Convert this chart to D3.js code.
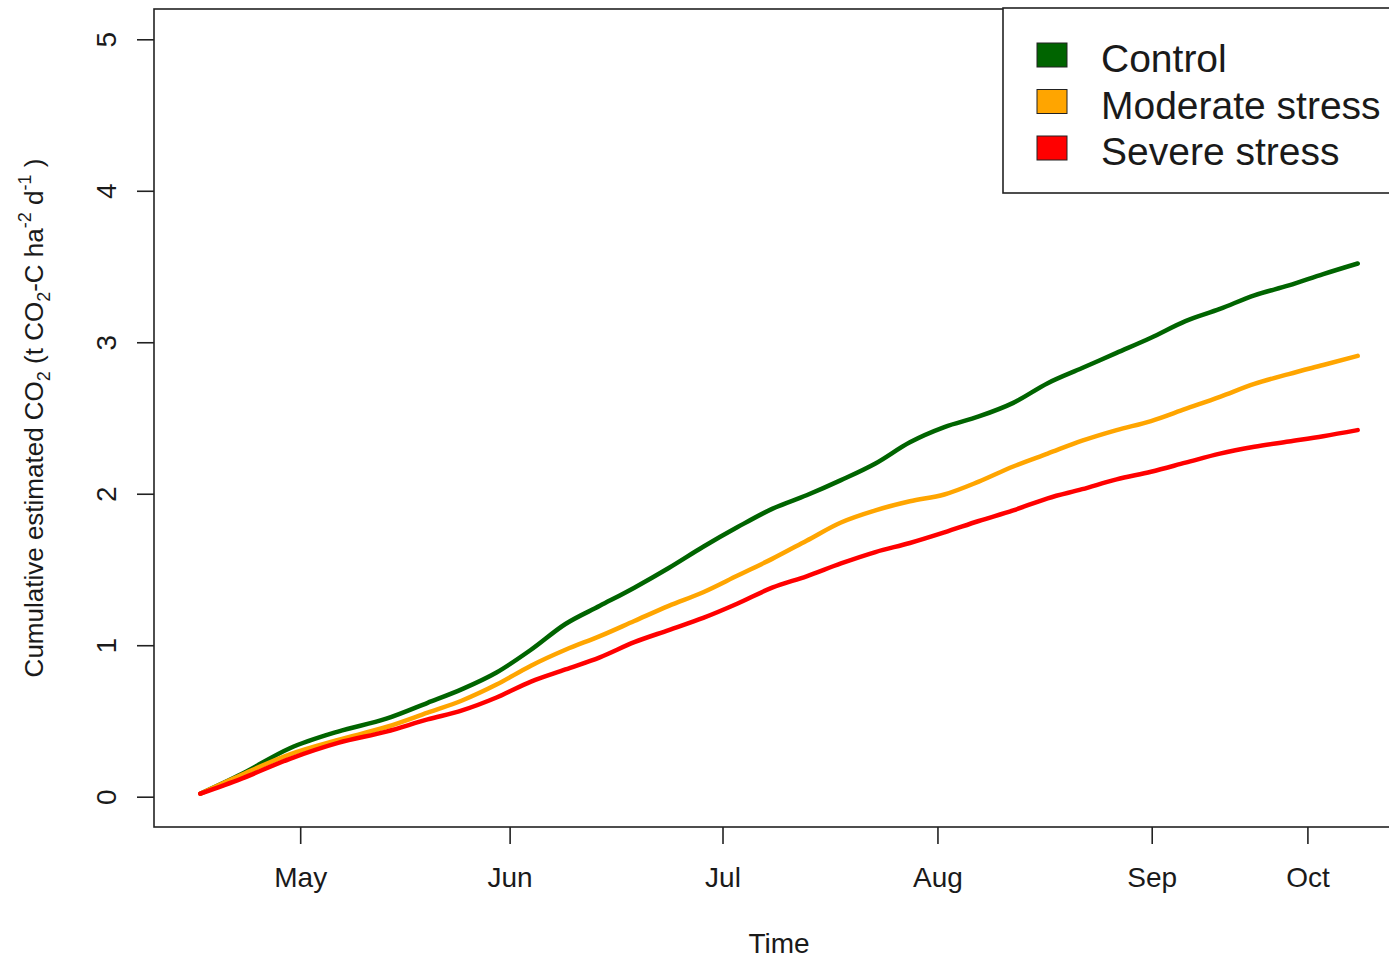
<!DOCTYPE html>
<html>
<head>
<meta charset="utf-8">
<script src="https://cdn.jsdelivr.net/npm/d3@7"></script>
<style>
  html, body { margin: 0; padding: 0; background: #fff; }
  svg { display: block; font-family: "Liberation Sans", Arial, sans-serif; }
</style>
</head>
<body>
<svg id="chart" width="1389" height="958"></svg>
<script>
// Day of the season (0 = first measurement day)
const dayIdx = [0, 6, 13, 20, 27, 33, 38, 43, 48, 53, 58, 63, 68, 73, 78, 83, 88,
  93, 98, 103, 108, 113, 118, 123, 128, 133, 138, 143, 148, 153, 158, 163, 168];

// Cumulative estimated CO2 (t CO2-C ha-2 d-1)
const control = [0.02, 0.15, 0.32, 0.43, 0.515, 0.62, 0.71, 0.82, 0.97, 1.14, 1.26,
  1.38, 1.51, 1.65, 1.78, 1.90, 1.99, 2.09, 2.20, 2.34, 2.44, 2.51, 2.60, 2.73,
  2.83, 2.93, 3.03, 3.14, 3.22, 3.31, 3.375, 3.45, 3.52];
const moderate = [0.02, 0.145, 0.28, 0.375, 0.46, 0.555, 0.635, 0.74, 0.865, 0.97,
  1.06, 1.16, 1.26, 1.35, 1.46, 1.57, 1.69, 1.81, 1.89, 1.95, 1.995, 2.08, 2.18,
  2.265, 2.35, 2.42, 2.48, 2.56, 2.64, 2.725, 2.79, 2.85, 2.91];
const severe = [0.02, 0.12, 0.25, 0.355, 0.43, 0.51, 0.57, 0.655, 0.76, 0.84, 0.92,
  1.02, 1.10, 1.18, 1.275, 1.38, 1.455, 1.54, 1.615, 1.675, 1.745, 1.82, 1.89,
  1.97, 2.03, 2.095, 2.145, 2.205, 2.265, 2.31, 2.345, 2.38, 2.42];

// Month tick positions along the day axis and their labels
const monthTickPos = [14.5, 44.9, 75.8, 107.0, 138.1, 160.7];
const monthLabels = ["May", "Jun", "Jul", "Aug", "Sep", "Oct"];

const yTicks = [0, 1, 2, 3, 4, 5];

const seriesNames = ["Control", "Moderate stress", "Severe stress"];
const seriesColors = ["#006400", "#FFA500", "#FF0000"];
const seriesValues = [control, moderate, severe];

const svg = d3.select("#chart");
const plot = { left: 154, top: 9, right: 1404, bottom: 827 };

// R-style 4% padding around the data range
const xPad = (d3.max(dayIdx) - d3.min(dayIdx)) * 0.04;
const x = d3.scaleLinear()
  .domain([d3.min(dayIdx) - xPad, d3.max(dayIdx) + xPad])
  .range([plot.left, plot.right]);
const y = d3.scaleLinear()
  .domain([0 - 5 * 0.04, 5 + 5 * 0.04])
  .range([plot.bottom, plot.top]);

const textColor = "#1a1a1a";

// Series lines
const line = d3.line()
  .curve(d3.curveMonotoneX)
  .x(d => x(d[0]))
  .y(d => y(d[1]));

seriesValues.forEach((vals, i) => {
  svg.append("path")
    .datum(dayIdx.map((d, k) => [d, vals[k]]))
    .attr("fill", "none")
    .attr("stroke", seriesColors[i])
    .attr("stroke-width", 4.5)
    .attr("stroke-linejoin", "round")
    .attr("stroke-linecap", "round")
    .attr("d", line);
});

// Plot frame
svg.append("rect")
  .attr("x", plot.left).attr("y", plot.top)
  .attr("width", plot.right - plot.left)
  .attr("height", plot.bottom - plot.top)
  .attr("fill", "none")
  .attr("stroke", "#222")
  .attr("stroke-width", 1.6);

// Y axis
const yAxis = d3.axisLeft(y).tickValues(yTicks).tickSize(17).tickPadding(0)
  .tickFormat(d3.format("d"));
const gy = svg.append("g")
  .attr("transform", `translate(${plot.left},0)`)
  .call(yAxis);
gy.select(".domain").remove();
gy.selectAll(".tick line").attr("stroke", "#222").attr("stroke-width", 1.6);
gy.selectAll(".tick text")
  .attr("x", null).attr("dy", null)
  .attr("transform", "translate(-38,0) rotate(-90)")
  .attr("text-anchor", "middle")
  .attr("fill", textColor)
  .style("font-size", "28px");

// X axis
const xAxis = d3.axisBottom(x).tickValues(monthTickPos).tickSize(17).tickPadding(0)
  .tickFormat((d, i) => monthLabels[i]);
const gx = svg.append("g")
  .attr("transform", `translate(0,${plot.bottom})`)
  .call(xAxis);
gx.select(".domain").remove();
gx.selectAll(".tick line").attr("stroke", "#222").attr("stroke-width", 1.6);
gx.selectAll(".tick text")
  .attr("y", 60).attr("dy", null)
  .attr("fill", textColor)
  .style("font-size", "28px");

// Axis titles
svg.append("text")
  .attr("x", (plot.left + plot.right) / 2)
  .attr("y", 953)
  .attr("text-anchor", "middle")
  .attr("fill", textColor)
  .style("font-size", "28px")
  .text("Time");

const yTitle = svg.append("text")
  .attr("transform", `translate(43,${(plot.top + plot.bottom) / 2}) rotate(-90)`)
  .attr("text-anchor", "middle")
  .attr("fill", textColor)
  .style("font-size", "26px");
const parts = [
  ["Cumulative estimated CO", 0, 26],
  ["2", -7, 18],
  [" (t CO", 0, 26],
  ["2", -7, 18],
  ["-C ha", 0, 26],
  ["-2", 12, 18],
  [" d", 0, 26],
  ["-1", 12, 18],
  [" )", 0, 26]
];
let prevShift = 0;
parts.forEach(([t, shift, size]) => {
  yTitle.append("tspan")
    .attr("dy", -(shift - prevShift))
    .style("font-size", size + "px")
    .text(t);
  prevShift = shift;
});

// Legend
const legend = svg.append("g");
legend.append("rect")
  .attr("x", 1003).attr("y", 8)
  .attr("width", 440).attr("height", 185)
  .attr("fill", "#fff")
  .attr("stroke", "#222")
  .attr("stroke-width", 1.6);
seriesNames.forEach((name, i) => {
  const cy = 55 + i * 46.5;
  legend.append("rect")
    .attr("x", 1037).attr("y", cy - 12)
    .attr("width", 30).attr("height", 24)
    .attr("fill", seriesColors[i])
    .attr("stroke", "#222")
    .attr("stroke-width", 1);
  legend.append("text")
    .attr("x", 1101).attr("y", cy + 17)
    .attr("fill", textColor)
    .style("font-size", "39px")
    .text(name);
});
</script>
</body>
</html>
